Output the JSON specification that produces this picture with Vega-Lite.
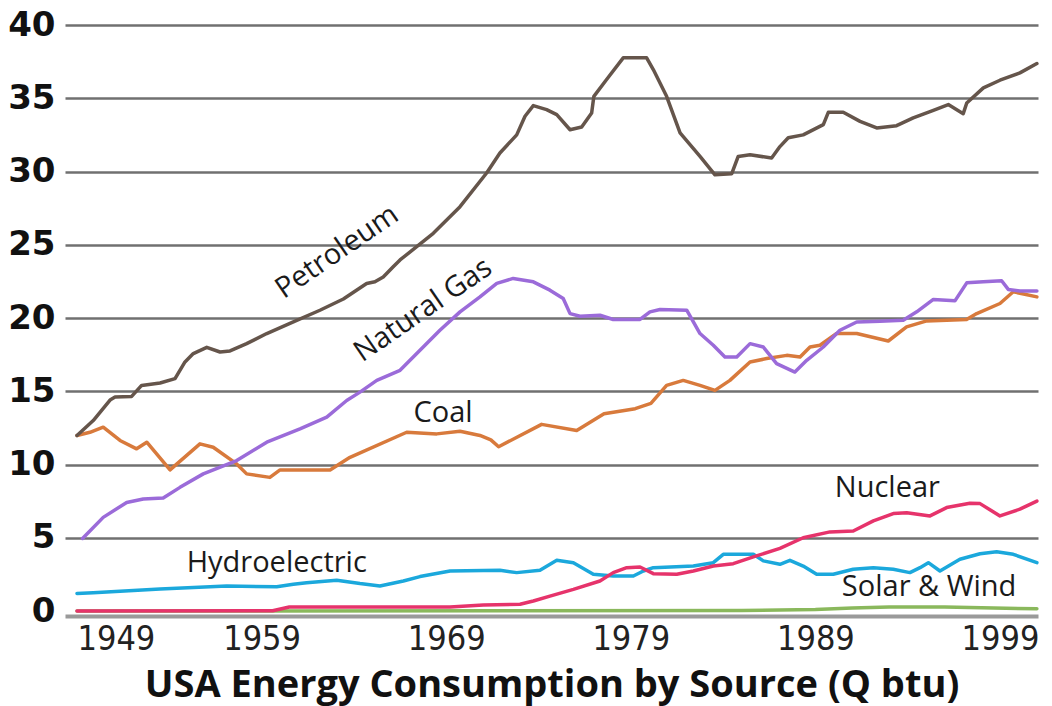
{
  "$schema": "https://vega.github.io/schema/vega-lite/v6.json",
  "width": 973,
  "height": 586,
  "autosize": {"type": "none"},
  "padding": {"left": 65, "top": 25, "right": 14, "bottom": 95},
  "background": "white",
  "config": {"view": {"stroke": null}},
  "datasets": {
    "energy": [
      {"source":"Solar & Wind","year":1949,"q":0},{"source":"Solar & Wind","year":1985,"q":0.03},{"source":"Solar & Wind","year":1989,"q":0.1},{"source":"Solar & Wind","year":1991,"q":0.2},{"source":"Solar & Wind","year":1993,"q":0.28},{"source":"Solar & Wind","year":1996,"q":0.28},{"source":"Solar & Wind","year":1998,"q":0.22},{"source":"Solar & Wind","year":2001,"q":0.15},

      {"source":"Hydroelectric","year":1949,"q":1.2},{"source":"Hydroelectric","year":1949.88,"q":1.25},{"source":"Hydroelectric","year":1953.5,"q":1.5},{"source":"Hydroelectric","year":1957.11,"q":1.71},{"source":"Hydroelectric","year":1959.82,"q":1.65},{"source":"Hydroelectric","year":1960.72,"q":1.82},{"source":"Hydroelectric","year":1961.44,"q":1.93},{"source":"Hydroelectric","year":1963.07,"q":2.1},{"source":"Hydroelectric","year":1964.33,"q":1.87},{"source":"Hydroelectric","year":1965.41,"q":1.71},{"source":"Hydroelectric","year":1966.68,"q":2.05},{"source":"Hydroelectric","year":1967.58,"q":2.35},{"source":"Hydroelectric","year":1969.21,"q":2.73},{"source":"Hydroelectric","year":1971.91,"q":2.78},{"source":"Hydroelectric","year":1972.82,"q":2.62},{"source":"Hydroelectric","year":1974.08,"q":2.78},{"source":"Hydroelectric","year":1974.99,"q":3.46},{"source":"Hydroelectric","year":1975.89,"q":3.3},{"source":"Hydroelectric","year":1976.97,"q":2.51},{"source":"Hydroelectric","year":1978.05,"q":2.39},{"source":"Hydroelectric","year":1979.14,"q":2.39},{"source":"Hydroelectric","year":1979.68,"q":2.73},{"source":"Hydroelectric","year":1980.22,"q":2.96},{"source":"Hydroelectric","year":1982.39,"q":3.07},{"source":"Hydroelectric","year":1983.47,"q":3.3},{"source":"Hydroelectric","year":1984.01,"q":3.87},{"source":"Hydroelectric","year":1985.64,"q":3.87},{"source":"Hydroelectric","year":1986.18,"q":3.42},{"source":"Hydroelectric","year":1987.08,"q":3.19},{"source":"Hydroelectric","year":1987.62,"q":3.46},{"source":"Hydroelectric","year":1988.34,"q":3.07},{"source":"Hydroelectric","year":1989.07,"q":2.51},{"source":"Hydroelectric","year":1989.97,"q":2.51},{"source":"Hydroelectric","year":1991.05,"q":2.85},{"source":"Hydroelectric","year":1992.14,"q":2.96},{"source":"Hydroelectric","year":1993.22,"q":2.85},{"source":"Hydroelectric","year":1994.12,"q":2.62},{"source":"Hydroelectric","year":1994.67,"q":2.96},{"source":"Hydroelectric","year":1995.12,"q":3.3},{"source":"Hydroelectric","year":1995.75,"q":2.73},{"source":"Hydroelectric","year":1996.83,"q":3.53},{"source":"Hydroelectric","year":1997.92,"q":3.91},{"source":"Hydroelectric","year":1998.82,"q":4.05},{"source":"Hydroelectric","year":1999.72,"q":3.87},{"source":"Hydroelectric","year":2001,"q":3.3},

      {"source":"Nuclear","year":1949,"q":0},{"source":"Nuclear","year":1959.6,"q":0.02},{"source":"Nuclear","year":1960.5,"q":0.27},{"source":"Nuclear","year":1969.21,"q":0.27},{"source":"Nuclear","year":1971.01,"q":0.41},{"source":"Nuclear","year":1973.0,"q":0.46},{"source":"Nuclear","year":1973.72,"q":0.68},{"source":"Nuclear","year":1974.62,"q":1.02},{"source":"Nuclear","year":1975.89,"q":1.48},{"source":"Nuclear","year":1977.33,"q":2.05},{"source":"Nuclear","year":1978.05,"q":2.62},{"source":"Nuclear","year":1978.78,"q":2.96},{"source":"Nuclear","year":1979.5,"q":3.0},{"source":"Nuclear","year":1980.22,"q":2.55},{"source":"Nuclear","year":1981.49,"q":2.51},{"source":"Nuclear","year":1982.39,"q":2.73},{"source":"Nuclear","year":1983.47,"q":3.07},{"source":"Nuclear","year":1984.55,"q":3.23},{"source":"Nuclear","year":1985.64,"q":3.69},{"source":"Nuclear","year":1987.08,"q":4.28},{"source":"Nuclear","year":1988.34,"q":5.0},{"source":"Nuclear","year":1989.79,"q":5.4},{"source":"Nuclear","year":1991.05,"q":5.46},{"source":"Nuclear","year":1992.14,"q":6.15},{"source":"Nuclear","year":1993.22,"q":6.65},{"source":"Nuclear","year":1993.95,"q":6.71},{"source":"Nuclear","year":1995.21,"q":6.49},{"source":"Nuclear","year":1996.11,"q":7.06},{"source":"Nuclear","year":1997.37,"q":7.36},{"source":"Nuclear","year":1997.92,"q":7.33},{"source":"Nuclear","year":1999.0,"q":6.49},{"source":"Nuclear","year":2000.08,"q":6.95},{"source":"Nuclear","year":2001,"q":7.5},

      {"source":"Coal","year":1949,"q":11.98},{"source":"Coal","year":1949.7,"q":12.2},{"source":"Coal","year":1950.42,"q":12.55},{"source":"Coal","year":1951.33,"q":11.64},{"source":"Coal","year":1952.23,"q":11.07},{"source":"Coal","year":1952.78,"q":11.52},{"source":"Coal","year":1954.04,"q":9.63},{"source":"Coal","year":1955.66,"q":11.41},{"source":"Coal","year":1956.38,"q":11.18},{"source":"Coal","year":1957.65,"q":10.04},{"source":"Coal","year":1958.19,"q":9.36},{"source":"Coal","year":1959.45,"q":9.12},{"source":"Coal","year":1960.0,"q":9.63},{"source":"Coal","year":1962.71,"q":9.63},{"source":"Coal","year":1963.79,"q":10.49},{"source":"Coal","year":1966.86,"q":12.2},{"source":"Coal","year":1968.49,"q":12.09},{"source":"Coal","year":1969.75,"q":12.27},{"source":"Coal","year":1970.83,"q":11.98},{"source":"Coal","year":1971.42,"q":11.68},{"source":"Coal","year":1971.84,"q":11.21},{"source":"Coal","year":1974.17,"q":12.74},{"source":"Coal","year":1976.07,"q":12.32},{"source":"Coal","year":1977.55,"q":13.46},{"source":"Coal","year":1979.24,"q":13.81},{"source":"Coal","year":1980.09,"q":14.17},{"source":"Coal","year":1980.94,"q":15.4},{"source":"Coal","year":1981.84,"q":15.74},{"source":"Coal","year":1982.75,"q":15.4},{"source":"Coal","year":1983.56,"q":15.06},{"source":"Coal","year":1984.37,"q":15.74},{"source":"Coal","year":1985.46,"q":17.0},{"source":"Coal","year":1986.36,"q":17.23},{"source":"Coal","year":1987.45,"q":17.45},{"source":"Coal","year":1988.17,"q":17.34},{"source":"Coal","year":1988.71,"q":18.02},{"source":"Coal","year":1989.25,"q":18.14},{"source":"Coal","year":1990.15,"q":18.94},{"source":"Coal","year":1991.24,"q":18.94},{"source":"Coal","year":1992.95,"q":18.43},{"source":"Coal","year":1993.94,"q":19.39},{"source":"Coal","year":1995.03,"q":19.8},{"source":"Coal","year":1997.19,"q":19.9},{"source":"Coal","year":1997.74,"q":20.3},{"source":"Coal","year":1999.0,"q":20.99},{"source":"Coal","year":1999.72,"q":21.79},{"source":"Coal","year":2001,"q":21.44},

      {"source":"Natural Gas","year":1949.3,"q":4.95},{"source":"Natural Gas","year":1950.42,"q":6.39},{"source":"Natural Gas","year":1951.69,"q":7.41},{"source":"Natural Gas","year":1952.59,"q":7.64},{"source":"Natural Gas","year":1953.67,"q":7.71},{"source":"Natural Gas","year":1954.58,"q":8.44},{"source":"Natural Gas","year":1955.84,"q":9.36},{"source":"Natural Gas","year":1957.65,"q":10.27},{"source":"Natural Gas","year":1959.28,"q":11.52},{"source":"Natural Gas","year":1961.08,"q":12.43},{"source":"Natural Gas","year":1962.53,"q":13.23},{"source":"Natural Gas","year":1963.61,"q":14.37},{"source":"Natural Gas","year":1964.33,"q":14.94},{"source":"Natural Gas","year":1965.24,"q":15.74},{"source":"Natural Gas","year":1966.5,"q":16.43},{"source":"Natural Gas","year":1967.58,"q":17.8},{"source":"Natural Gas","year":1968.66,"q":19.16},{"source":"Natural Gas","year":1969.75,"q":20.42},{"source":"Natural Gas","year":1970.83,"q":21.44},{"source":"Natural Gas","year":1971.74,"q":22.36},{"source":"Natural Gas","year":1972.63,"q":22.7},{"source":"Natural Gas","year":1973.72,"q":22.47},{"source":"Natural Gas","year":1974.62,"q":21.9},{"source":"Natural Gas","year":1975.34,"q":21.33},{"source":"Natural Gas","year":1975.71,"q":20.3},{"source":"Natural Gas","year":1976.25,"q":20.12},{"source":"Natural Gas","year":1977.33,"q":20.19},{"source":"Natural Gas","year":1978.05,"q":19.9},{"source":"Natural Gas","year":1979.5,"q":19.9},{"source":"Natural Gas","year":1980.04,"q":20.42},{"source":"Natural Gas","year":1980.58,"q":20.58},{"source":"Natural Gas","year":1982.03,"q":20.53},{"source":"Natural Gas","year":1982.75,"q":18.94},{"source":"Natural Gas","year":1983.47,"q":18.14},{"source":"Natural Gas","year":1984.1,"q":17.34},{"source":"Natural Gas","year":1984.74,"q":17.34},{"source":"Natural Gas","year":1985.46,"q":18.25},{"source":"Natural Gas","year":1986.18,"q":18.02},{"source":"Natural Gas","year":1986.9,"q":16.89},{"source":"Natural Gas","year":1987.89,"q":16.31},{"source":"Natural Gas","year":1988.53,"q":17.11},{"source":"Natural Gas","year":1989.43,"q":18.02},{"source":"Natural Gas","year":1990.33,"q":19.16},{"source":"Natural Gas","year":1991.24,"q":19.73},{"source":"Natural Gas","year":1992.5,"q":19.78},{"source":"Natural Gas","year":1993.76,"q":19.85},{"source":"Natural Gas","year":1994.49,"q":20.42},{"source":"Natural Gas","year":1995.39,"q":21.27},{"source":"Natural Gas","year":1996.56,"q":21.17},{"source":"Natural Gas","year":1997.2,"q":22.4},{"source":"Natural Gas","year":1998.1,"q":22.47},{"source":"Natural Gas","year":1999.09,"q":22.54},{"source":"Natural Gas","year":1999.45,"q":21.95},{"source":"Natural Gas","year":2000.08,"q":21.85},{"source":"Natural Gas","year":2001,"q":21.85},

      {"source":"Petroleum","year":1949,"q":11.98},{"source":"Petroleum","year":1949.88,"q":13.0},{"source":"Petroleum","year":1950.79,"q":14.4},{"source":"Petroleum","year":1951.06,"q":14.6},{"source":"Petroleum","year":1951.96,"q":14.65},{"source":"Petroleum","year":1952.5,"q":15.4},{"source":"Petroleum","year":1953.5,"q":15.56},{"source":"Petroleum","year":1954.31,"q":15.86},{"source":"Petroleum","year":1954.85,"q":17.0},{"source":"Petroleum","year":1955.3,"q":17.57},{"source":"Petroleum","year":1956.03,"q":18.0},{"source":"Petroleum","year":1956.75,"q":17.68},{"source":"Petroleum","year":1957.29,"q":17.75},{"source":"Petroleum","year":1958.19,"q":18.25},{"source":"Petroleum","year":1959.28,"q":18.94},{"source":"Petroleum","year":1960.72,"q":19.73},{"source":"Petroleum","year":1962.16,"q":20.53},{"source":"Petroleum","year":1963.43,"q":21.3},{"source":"Petroleum","year":1964.69,"q":22.36},{"source":"Petroleum","year":1965.14,"q":22.47},{"source":"Petroleum","year":1965.59,"q":22.8},{"source":"Petroleum","year":1966.13,"q":23.5},{"source":"Petroleum","year":1966.5,"q":23.96},{"source":"Petroleum","year":1968.3,"q":25.78},{"source":"Petroleum","year":1969.75,"q":27.6},{"source":"Petroleum","year":1971.19,"q":29.9},{"source":"Petroleum","year":1971.91,"q":31.26},{"source":"Petroleum","year":1972.82,"q":32.5},{"source":"Petroleum","year":1973.27,"q":33.77},{"source":"Petroleum","year":1973.72,"q":34.5},{"source":"Petroleum","year":1974.44,"q":34.22},{"source":"Petroleum","year":1974.99,"q":33.88},{"source":"Petroleum","year":1975.71,"q":32.85},{"source":"Petroleum","year":1976.34,"q":33.04},{"source":"Petroleum","year":1976.88,"q":34.0},{"source":"Petroleum","year":1977.0,"q":35.13},{"source":"Petroleum","year":1977.69,"q":36.28},{"source":"Petroleum","year":1978.59,"q":37.76},{"source":"Petroleum","year":1979.86,"q":37.76},{"source":"Petroleum","year":1980.22,"q":36.96},{"source":"Petroleum","year":1980.94,"q":35.13},{"source":"Petroleum","year":1981.67,"q":32.63},{"source":"Petroleum","year":1982.75,"q":31.03},{"source":"Petroleum","year":1983.56,"q":29.77},{"source":"Petroleum","year":1984.47,"q":29.85},{"source":"Petroleum","year":1984.82,"q":31.03},{"source":"Petroleum","year":1985.46,"q":31.14},{"source":"Petroleum","year":1986.63,"q":30.92},{"source":"Petroleum","year":1987.08,"q":31.7},{"source":"Petroleum","year":1987.53,"q":32.3},{"source":"Petroleum","year":1988.34,"q":32.5},{"source":"Petroleum","year":1989.43,"q":33.2},{"source":"Petroleum","year":1989.7,"q":34.04},{"source":"Petroleum","year":1990.51,"q":34.04},{"source":"Petroleum","year":1991.42,"q":33.42},{"source":"Petroleum","year":1992.32,"q":32.97},{"source":"Petroleum","year":1993.4,"q":33.13},{"source":"Petroleum","year":1994.3,"q":33.66},{"source":"Petroleum","year":1995.39,"q":34.18},{"source":"Petroleum","year":1996.2,"q":34.57},{"source":"Petroleum","year":1997.01,"q":33.95},{"source":"Petroleum","year":1997.2,"q":34.68},{"source":"Petroleum","year":1998.1,"q":35.71},{"source":"Petroleum","year":1999.0,"q":36.23},{"source":"Petroleum","year":2000.08,"q":36.73},{"source":"Petroleum","year":2001,"q":37.37}
    ],
    "labels": [
      {"label":"Petroleum","year":1963.08,"q":24.53},
      {"label":"Natural Gas","year":1967.74,"q":20.56},
      {"label":"Coal","year":1968.83,"q":12.93},
      {"label":"Nuclear","year":1992.9,"q":7.81},
      {"label":"Hydroelectric","year":1959.82,"q":2.68},
      {"label":"Solar & Wind","year":1995.16,"q":1.02}
    ]
  },
  "encoding": {
    "x": {
      "field": "year", "type": "quantitative",
      "scale": {"domain": [1948.35, 2001.06], "nice": false, "zero": false},
      "axis": {
        "values": [1949, 1959, 1969, 1979, 1989, 1999], "format": "d",
        "grid": false, "ticks": false, "tickSize": 0,
        "domainColor": "#9a9a9a", "domainWidth": 4, "offset": 5,
        "labelFont": "Liberation Sans Narrow, Arial Narrow, DejaVu Sans Condensed, sans-serif",
        "labelFontSize": 34, "labelColor": "#222222", "labelPadding": 6,
        "labelFlush": 15,
        "title": "USA Energy Consumption by Source (Q btu)",
        "titleFont": "Open Sans", "titleFontSize": 38, "titleFontWeight": "bold",
        "titleColor": "#111111", "titlePadding": 10
      }
    },
    "y": {
      "field": "q", "type": "quantitative",
      "scale": {"domain": [0, 40], "nice": false},
      "axis": {
        "values": [0, 5, 10, 15, 20, 25, 30, 35, 40],
        "grid": true, "gridWidth": 2.5,
        "gridColor": {"condition": {"test": "datum.value === 0", "value": "transparent"}, "value": "#707070"},
        "domain": false, "ticks": false,
        "labelFont": "DejaVu Sans", "labelFontWeight": "bold", "labelFontSize": 34,
        "labelColor": "#111111", "labelPadding": 10, "title": null
      }
    }
  },
  "layer": [
    {
      "data": {"name": "energy"},
      "mark": {"type": "line", "strokeWidth": 3.5, "strokeJoin": "round", "strokeCap": "round"},
      "encoding": {
        "color": {
          "field": "source", "type": "nominal",
          "scale": {
            "domain": ["Solar & Wind", "Hydroelectric", "Nuclear", "Coal", "Natural Gas", "Petroleum"],
            "range": ["#8ab85c", "#1ba8dc", "#e6336b", "#d87a3c", "#9b6bd9", "#65554b"]
          },
          "legend": null
        }
      }
    },
    {
      "data": {"name": "labels"},
      "transform": [{"filter": {"field": "label", "oneOf": ["Petroleum", "Natural Gas"]}}],
      "mark": {"type": "text", "align": "center", "baseline": "middle", "angle": 325.5, "font": "Open Sans", "fontSize": 29, "color": "#1a1a1a"},
      "encoding": {"text": {"field": "label"}}
    },
    {
      "data": {"name": "labels"},
      "transform": [{"filter": {"not": {"field": "label", "oneOf": ["Petroleum", "Natural Gas"]}}}],
      "mark": {"type": "text", "align": "center", "baseline": "alphabetic", "font": "Open Sans", "fontSize": 29, "color": "#1a1a1a"},
      "encoding": {"text": {"field": "label"}}
    }
  ]
}
